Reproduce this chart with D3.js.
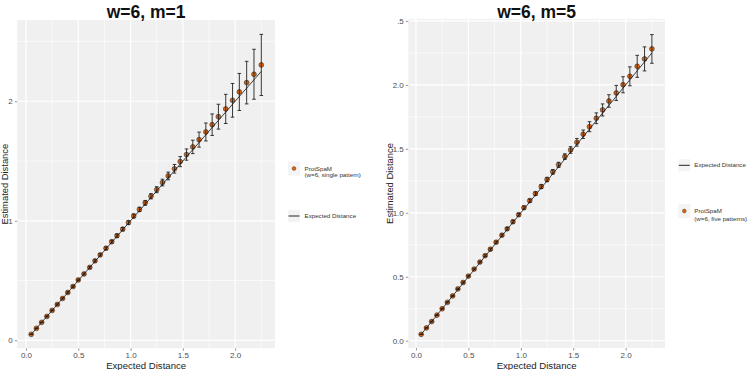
<!DOCTYPE html>
<html><head><meta charset="utf-8">
<script src="https://cdn.jsdelivr.net/npm/d3@7"></script>
<style>body{margin:0;background:#fff}svg{display:block;font-family:"Liberation Sans",Arial,sans-serif}</style>
</head><body><svg id="c" width="756" height="370"></svg>
<script>
const expected = [0.05,0.10,0.15,0.20,0.25,0.30,0.35,0.40,0.45,0.50,0.555,0.61,0.66,0.71,0.765,0.82,0.87,0.925,0.98,1.03,1.085,1.14,1.195,1.25,1.305,1.36,1.42,1.475,1.535,1.595,1.655,1.72,1.78,1.84,1.91,1.975,2.04,2.11,2.18,2.25];
const estM1 = [0.05,0.10,0.15,0.20,0.25,0.30,0.35,0.40,0.45,0.505,0.555,0.61,0.665,0.715,0.77,0.825,0.875,0.93,0.985,1.04,1.095,1.15,1.205,1.26,1.32,1.375,1.435,1.495,1.554,1.618,1.679,1.743,1.804,1.871,1.936,2.008,2.078,2.156,2.226,2.304];
const sdM1 = [0.002,0.003,0.003,0.004,0.004,0.005,0.005,0.006,0.006,0.007,0.008,0.008,0.009,0.010,0.011,0.012,0.013,0.014,0.015,0.016,0.018,0.020,0.022,0.025,0.028,0.032,0.036,0.042,0.047,0.056,0.063,0.075,0.09,0.104,0.122,0.141,0.155,0.178,0.209,0.256];
const estM5 = [0.05,0.10,0.15,0.20,0.25,0.30,0.35,0.405,0.455,0.505,0.56,0.615,0.665,0.715,0.77,0.825,0.875,0.93,0.985,1.04,1.095,1.15,1.205,1.26,1.32,1.375,1.439,1.491,1.551,1.614,1.673,1.739,1.804,1.874,1.937,2.001,2.067,2.145,2.203,2.281];
const sdM5 = [0.002,0.002,0.003,0.003,0.003,0.004,0.004,0.005,0.005,0.006,0.006,0.007,0.007,0.008,0.008,0.009,0.010,0.011,0.011,0.012,0.013,0.014,0.015,0.017,0.018,0.020,0.022,0.026,0.030,0.033,0.039,0.042,0.047,0.049,0.059,0.063,0.074,0.086,0.094,0.112];
const titles = ["w=6, m=1","w=6, m=5"];
const yTicksM1 = [0,1,2], yMinorM1 = [0.5,1.5,2.5];
const yTicksM5 = [0,0.5,1,1.5,2,2.5], yMinorM5 = [0.25,0.75,1.25,1.75,2.25];
const xTicks = [0,0.5,1,1.5,2], xMinor = [0.25,0.75,1.25,1.75,2.25];
const legendM1 = ["ProtSpaM","(w=6, single pattern)"];
const legendM5 = ["ProtSpaM","(w=6, five patterns)"];

const svg = d3.select("#c");
const ORANGE = "#e0640c";

function panel(o){
  const x = d3.scaleLinear().domain(o.xd).range(o.xr);
  const y = d3.scaleLinear().domain(o.yd).range(o.yr);
  const g = svg.append("g");
  g.append("rect").attr("x",o.xr[0]).attr("y",o.yr[1]).attr("width",o.xr[1]-o.xr[0]).attr("height",o.yr[0]-o.yr[1]).attr("fill","#eff0ef");
  o.yMinor.forEach(v=>g.append("line").attr("x1",o.xr[0]).attr("x2",o.xr[1]).attr("y1",y(v)).attr("y2",y(v)).attr("stroke","#fff").attr("stroke-width",0.6));
  xMinor.forEach(v=>g.append("line").attr("y1",o.yr[0]).attr("y2",o.yr[1]).attr("x1",x(v)).attr("x2",x(v)).attr("stroke","#fff").attr("stroke-width",0.6));
  o.yTicks.forEach(v=>g.append("line").attr("x1",o.xr[0]).attr("x2",o.xr[1]).attr("y1",y(v)).attr("y2",y(v)).attr("stroke","#fff").attr("stroke-width",1.2));
  xTicks.forEach(v=>g.append("line").attr("y1",o.yr[0]).attr("y2",o.yr[1]).attr("x1",x(v)).attr("x2",x(v)).attr("stroke","#fff").attr("stroke-width",1.2));
  const ax = d3.axisBottom(x).tickValues(xTicks).tickFormat(d3.format(".1f")).tickSize(2.5).tickPadding(2);
  const axg = g.append("g").attr("transform",`translate(0,${o.yr[0]})`).call(ax);
  const ay = d3.axisLeft(y).tickValues(o.yTicks).tickFormat(o.yfmt).tickSize(2.5).tickPadding(2);
  const ayg = g.append("g").attr("transform",`translate(${o.xr[0]},0)`).call(ay);
  [axg,ayg].forEach(a=>{a.select(".domain").remove();a.selectAll("line").attr("stroke","#555").attr("stroke-width",0.6);a.selectAll("text").attr("fill","#4d4d4d").attr("font-size",8).attr("font-family","Liberation Sans, Arial, sans-serif");});
  if(o.clipTop){ ayg.selectAll(".tick").filter(d=>d===2.5).select("text").text(".5"); }
  g.append("text").attr("x",(o.xr[0]+o.xr[1])/2).attr("y",18).attr("text-anchor","middle").attr("font-size",17.5).attr("font-weight","bold").attr("fill","#111").text(o.title);
  g.append("text").attr("x",(o.xr[0]+o.xr[1])/2).attr("y",368.5).attr("text-anchor","middle").attr("font-size",9.6).attr("fill","#222").text("Expected Distance");
  g.append("text").attr("transform",`translate(${o.ylabX},${(o.yr[0]+o.yr[1])/2}) rotate(-90)`).attr("text-anchor","middle").attr("dy","0.35em").attr("font-size",9.4).attr("fill","#222").text("Estimated Distance");
  const data = expected.map((e,i)=>({e, m:o.est[i], s:o.sd[i]}));
  const line = d3.line().x(d=>x(d.e)).y(d=>y(d.e));
  g.append("g").selectAll("circle").data(data).join("circle").attr("cx",d=>x(d.e)).attr("cy",d=>y(d.m)).attr("r",2.4).attr("fill",ORANGE).attr("stroke","#3a2a20").attr("stroke-width",0.6);
  const eb = g.append("g").attr("stroke","#222").attr("stroke-width",0.9);
  data.forEach(d=>{
    const cx=x(d.e), t=y(d.m+d.s), b=y(d.m-d.s);
    eb.append("line").attr("x1",cx).attr("x2",cx).attr("y1",t).attr("y2",b);
    eb.append("line").attr("x1",cx-1.8).attr("x2",cx+1.8).attr("y1",t).attr("y2",t);
    eb.append("line").attr("x1",cx-1.8).attr("x2",cx+1.8).attr("y1",b).attr("y2",b);
  });
  g.append("path").datum([data[0],data[data.length-1]]).attr("d",line).attr("fill","none").attr("stroke","#111").attr("stroke-width",0.8);
  const L = o.legend;
  const dotKey = g.append("g");
  dotKey.append("rect").attr("x",L.kx-6).attr("y",L.dotY-7).attr("width",12).attr("height",14).attr("fill","#f4f4f4");
  dotKey.append("circle").attr("cx",L.kx).attr("cy",L.dotY).attr("r",1.9).attr("fill",ORANGE).attr("stroke","#3a2a20").attr("stroke-width",0.4);
  o.legText.forEach((t,i)=>dotKey.append("text").attr("x",L.tx).attr("y",L.dotY+i*L.lh).attr("dy","0.35em").attr("font-size",6.2).attr("fill","#333").text(t));
  const lk = g.append("g");
  lk.append("rect").attr("x",L.kx-6).attr("y",L.lineY-6).attr("width",12).attr("height",12).attr("fill","#f4f4f4");
  lk.append("line").attr("x1",L.kx-5.5).attr("x2",L.kx+5.5).attr("y1",L.lineY).attr("y2",L.lineY).attr("stroke","#222").attr("stroke-width",1);
  lk.append("text").attr("x",L.tx).attr("y",L.lineY).attr("dy","0.35em").attr("font-size",6.2).attr("fill","#333").text("Expected Distance");
}

panel({xd:[-0.083,2.381], xr:[17.3,275], yd:[-0.067,2.68], yr:[348.3,20],
  yTicks:yTicksM1, yMinor:yMinorM1, yfmt:d3.format("d"), title:titles[0], ylabX:5,
  est:estM1, sd:sdM1, legText:legendM1,
  legend:{kx:294, tx:304.5, dotY:168.5, lineY:216, lh:6.3}});
panel({xd:[-0.073,2.375], xr:[408.3,665], yd:[-0.057,2.515], yr:[348,19],
  yTicks:yTicksM5, yMinor:yMinorM5, yfmt:d3.format(".1f"), title:titles[1], ylabX:390, clipTop:true,
  est:estM5, sd:sdM5, legText:legendM5,
  legend:{kx:684.3, tx:694.3, dotY:211, lineY:165.3, lh:8.3}});
</script></body></html>
